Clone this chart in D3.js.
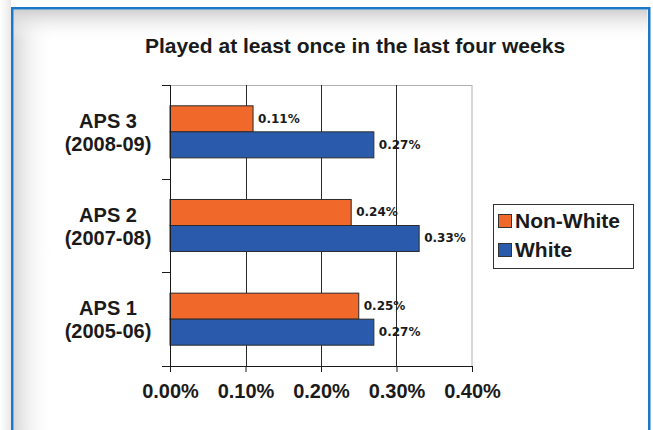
<!DOCTYPE html>
<html>
<head>
<meta charset="utf-8">
<script src="https://cdn.jsdelivr.net/npm/d3@7"></script>
<style>
  html, body { margin: 0; padding: 0; background: #fff; }
  svg { display: block; }
</style>
</head>
<body>
<svg id="chart" width="653" height="430"></svg>
<script>
const titleText = "Played at least once in the last four weeks";
const categories = ["APS 3", "APS 2", "APS 1"];
const categoryYears = ["(2008-09)", "(2007-08)", "(2005-06)"];
const seriesNames = ["Non-White", "White"];
const nonWhite = [0.11, 0.24, 0.25];
const white = [0.27, 0.33, 0.27];
const xTicks = [0, 0.1, 0.2, 0.3, 0.4];
const seriesColors = ["#f0682a", "#2a5aab"];

const svg = d3.select("#chart");
const W = 653, H = 430;

// background & frame
const defs = svg.append("defs");
const gTop = defs.append("linearGradient").attr("id", "gTop").attr("x1", 0).attr("y1", 0).attr("x2", 0).attr("y2", 1);
gTop.append("stop").attr("offset", "0%").attr("stop-color", "#cfcfcf");
gTop.append("stop").attr("offset", "100%").attr("stop-color", "#ffffff").attr("stop-opacity", 0);
const gLeft = defs.append("linearGradient").attr("id", "gLeft").attr("x1", 0).attr("y1", 0).attr("x2", 1).attr("y2", 0);
gLeft.append("stop").attr("offset", "0%").attr("stop-color", "#d8d8d8");
gLeft.append("stop").attr("offset", "100%").attr("stop-color", "#ffffff").attr("stop-opacity", 0);
const gOut = defs.append("linearGradient").attr("id", "gOut").attr("x1", 0).attr("y1", 0).attr("x2", 1).attr("y2", 0);
gOut.append("stop").attr("offset", "0%").attr("stop-color", "#ffffff");
gOut.append("stop").attr("offset", "100%").attr("stop-color", "#e8e8e8");

svg.append("rect").attr("width", W).attr("height", H).attr("fill", "#fff");
svg.append("rect").attr("x", 0).attr("y", 0).attr("width", 11).attr("height", H).attr("fill", "url(#gOut)");
svg.append("rect").attr("x", 13.5).attr("y", 9.5).attr("width", 40).attr("height", H).attr("fill", "url(#gLeft)");
svg.append("rect").attr("x", 13.5).attr("y", 9.5).attr("width", 634).attr("height", 32).attr("fill", "url(#gTop)");
svg.append("rect").attr("x", 12.25).attr("y", 8.25).attr("width", 637).attr("height", 440)
  .attr("fill", "none").attr("stroke", "#1b78c8").attr("stroke-width", 2.5);

// title
svg.append("text").attr("x", 355).attr("y", 53).attr("text-anchor", "middle")
  .attr("font-family", "Liberation Sans, Arial, sans-serif").attr("font-weight", "bold")
  .attr("font-size", 21).attr("fill", "#1a1a1a").text(titleText);

// scales
const x = d3.scaleLinear().domain([0, 0.4]).range([170, 472]);
const y = d3.scaleBand().domain(categories).range([85, 366]).padding(0);
const y1 = d3.scaleBand().domain(seriesNames).range([0, y.bandwidth()]).paddingInner(0).paddingOuter(0.8);

// plot border (top & right gray)
svg.append("line").attr("x1", x(0)).attr("x2", x(0.4)).attr("y1", 85.5).attr("y2", 85.5).attr("stroke", "#b0b0b0");
svg.append("line").attr("x1", x(0.4)).attr("x2", x(0.4)).attr("y1", 85).attr("y2", 366).attr("stroke", "#b0b0b0");

// gridlines
svg.append("g").selectAll("line").data(xTicks.filter(d => d > 0 && d < 0.4)).join("line")
  .attr("x1", d => Math.round(x(d)) + 0.5).attr("x2", d => Math.round(x(d)) + 0.5)
  .attr("y1", 85).attr("y2", 366).attr("stroke", "#2a2a2a").attr("stroke-width", 1);

// bars
const data = categories.map((c, i) => ({ cat: c, values: [nonWhite[i], white[i]] }));
const groups = svg.append("g").selectAll("g").data(data).join("g")
  .attr("transform", d => `translate(0,${y(d.cat)})`);
groups.selectAll("rect").data(d => d.values.map((v, j) => ({ v, s: seriesNames[j], j }))).join("rect")
  .attr("x", x(0)).attr("y", d => y1(d.s)).attr("width", d => x(d.v) - x(0))
  .attr("height", y1.bandwidth()).attr("fill", d => seriesColors[d.j])
  .attr("stroke", "#2b2b2b").attr("stroke-width", 1);
groups.selectAll("text").data(d => d.values.map((v, j) => ({ v, s: seriesNames[j], j }))).join("text")
  .attr("x", d => x(d.v) + 5).attr("y", d => y1(d.s) + y1.bandwidth() / 2 + 4)
  .attr("font-family", "DejaVu Sans, Verdana, sans-serif").attr("font-weight", "bold")
  .attr("font-size", 12).attr("fill", "#1a1a1a").text(d => d.v.toFixed(2) + "%");

// x axis
const xAxis = d3.axisBottom(x).tickValues(xTicks).tickSize(6).tickFormat(d => d.toFixed(2) + "%");
const gx = svg.append("g").attr("transform", "translate(0,366)").call(xAxis);
gx.select(".domain").remove();
gx.append("line").attr("x1", 162).attr("x2", x(0.4)).attr("y1", 0.5).attr("y2", 0.5).attr("stroke", "#1a1a1a");
gx.selectAll(".tick line").attr("stroke", "#1a1a1a");
gx.selectAll(".tick text").attr("y", 32).attr("dy", 0)
  .attr("font-family", "Liberation Sans, Arial, sans-serif").attr("font-weight", "bold")
  .attr("font-size", 20).attr("fill", "#1a1a1a");

// y axis
svg.append("line").attr("x1", 170.5).attr("x2", 170.5).attr("y1", 85).attr("y2", 366).attr("stroke", "#1a1a1a");
const bounds = categories.map(c => y(c)).concat([y.range()[1]]);
svg.append("g").selectAll("line").data(bounds).join("line")
  .attr("x1", 162).attr("x2", 170).attr("y1", d => Math.round(d) + 0.5).attr("y2", d => Math.round(d) + 0.5)
  .attr("stroke", "#1a1a1a");
const yl = svg.append("g").selectAll("text").data(categories).join("text")
  .attr("text-anchor", "middle")
  .attr("font-family", "Liberation Sans, Arial, sans-serif").attr("font-weight", "bold")
  .attr("font-size", 20).attr("fill", "#1a1a1a");
yl.append("tspan").attr("x", 108).attr("y", d => y(d) + y.bandwidth() / 2 - 4).text(d => d);
yl.append("tspan").attr("x", 108).attr("y", (d, i) => y(d) + y.bandwidth() / 2 + 19).text((d, i) => categoryYears[i]);

// legend
const lg = svg.append("g");
lg.append("rect").attr("x", 493.5).attr("y", 204.5).attr("width", 140).attr("height", 64)
  .attr("fill", "#fff").attr("stroke", "#333").attr("stroke-width", 1);
const li = lg.selectAll("g").data(seriesNames).join("g")
  .attr("transform", (d, i) => `translate(0,${i * 29})`);
li.append("rect").attr("x", 498.5).attr("y", 214.5).attr("width", 13).attr("height", 13)
  .attr("fill", (d, i) => seriesColors[i]).attr("stroke", "#333");
li.append("text").attr("x", 515).attr("y", 228)
  .attr("font-family", "Liberation Sans, Arial, sans-serif").attr("font-weight", "bold")
  .attr("font-size", 21).attr("fill", "#1a1a1a").text(d => d);
</script>
</body>
</html>
